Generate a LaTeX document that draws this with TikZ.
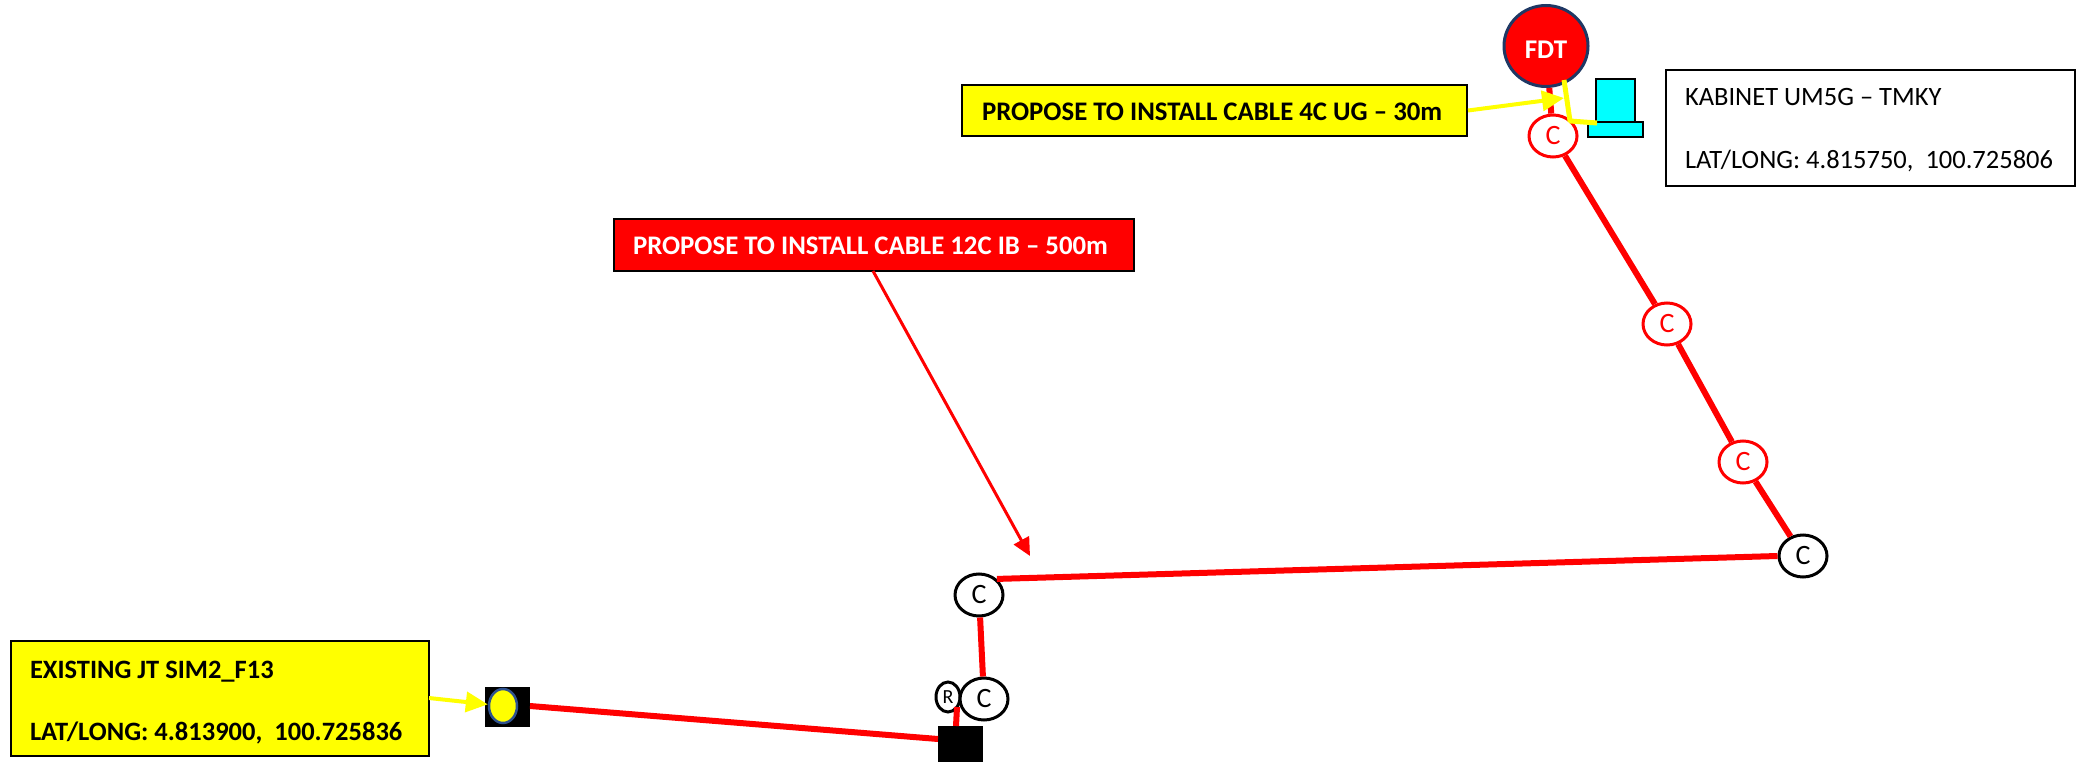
\documentclass[tikz,border=0pt]{standalone}
\usepackage{fontspec}
\setmainfont{Carlito}
\usetikzlibrary{arrows.meta,shapes.geometric}
\definecolor{pureyellow}{RGB}{255,255,0}
\definecolor{purecyan}{RGB}{0,255,255}
\definecolor{purered}{RGB}{255,0,0}
\definecolor{jtblue}{RGB}{47,82,143}
\definecolor{fdtblue}{RGB}{31,56,100}
\newcommand{\lowered}[2]{\raisebox{-#1}[\height][\depth]{\spaceskip=0pt\relax #2}}
\newcommand{\boxfont}[1]{\fontsize{26.5}{#1}\selectfont}
\tikzset{
  cnode/.style={ellipse,draw=black,line width=3pt,fill=white,inner sep=0pt,minimum width=48pt,minimum height=42pt,font=\fontsize{28}{28}\selectfont},
  rcnode/.style={cnode,draw=purered,text=purered},
  infobox/.style={rectangle,draw=black,line width=2pt,inner sep=0pt,align=left,font=\boxfont{63}},
  cable/.style={draw=purered,line width=6pt},
  ylead/.style={draw=pureyellow,line width=4pt,-{Triangle[length=22pt,width=20pt]}},
  rlead/.style={draw=purered,line width=3pt,-{Triangle[length=18pt,width=17pt]}},
  solidblock/.style={rectangle,fill=black,inner sep=0pt},
}
\begin{document}
\begin{tikzpicture}[x=1pt,y=-1pt]
\useasboundingbox (0,0) rectangle (2077,762);
% boxes
\node[infobox,fill=pureyellow,font=\bfseries\fontsize{26.8}{27}\selectfont,minimum width=505pt,minimum height=51pt,text width=465pt] (ugbox) at (1214.5,110.5) {\lowered{1pt}{PROPOSE TO INSTALL CABLE 4C UG – 30m}};
\node[infobox,fill=purered,text=white,font=\bfseries\fontsize{26.8}{27}\selectfont,minimum width=520pt,minimum height=52pt,text width=482pt] (ibbox) at (874,245) {\lowered{1pt}{PROPOSE TO INSTALL CABLE 12C IB – 500m}};
\node[infobox,minimum width=409pt,minimum height=116pt,text width=371pt] (kab) at (1870.5,128.5) {\lowered{2pt}{KABINET UM5G – TMKY}\\\lowered{2pt}{LAT/LONG: 4.815750,\ \ 100.725806}};
\node[infobox,fill=pureyellow,font=\bfseries\boxfont{63},minimum width=418pt,minimum height=115pt,text width=380pt] (jtbox) at (220,698.5) {\lowered{5pt}{EXISTING JT SIM2\_F13}\\\lowered{4pt}{LAT/LONG: 4.813900,\ \ 100.725836}};
% equipment
\node[solidblock,minimum width=45pt,minimum height=40pt] (jtsq) at (507.5,706.5) {};
\node[ellipse,fill=pureyellow,draw=jtblue,line width=2.5pt,inner sep=0pt,minimum width=28pt,minimum height=34pt] (jt) at (503,706) {};
\node[solidblock,minimum width=45pt,minimum height=38pt] (pole) at (960.5,745) {};
\node[cnode,minimum width=24pt,minimum height=30pt,font=\fontsize{20}{20}\selectfont] (r) at (948,697) {R};
\node[cnode] (c1) at (984,699) {C};
\node[cnode] (c2) at (979,595) {C};
\node[cnode] (c3) at (1803,556) {C};
\node[rcnode] (c4) at (1743,462) {C};
\node[rcnode] (c5) at (1667,324) {C};
\node[rcnode] (c6) at (1553,136) {C};
\node[ellipse,fill=purered,draw=fdtblue,line width=3pt,inner sep=0pt,minimum width=84pt,minimum height=81pt,text=white,font=\bfseries\fontsize{27}{27}\selectfont] (fdt) at (1546,46) {\lowered{4pt}{FDT}};
\node[rectangle,fill=purecyan,draw=black,line width=2pt,minimum width=39pt,minimum height=43pt,inner sep=0pt] (cabtop) at (1615.5,100.5) {};
\node[rectangle,fill=purecyan,draw=black,line width=2pt,minimum width=55pt,minimum height=15pt,inner sep=0pt] (cabbase) at (1615.5,129.5) {};
% connector ends
\coordinate (ugtip) at (1564,98);
\coordinate (ibtip) at (1030,556);
\coordinate (ibstart) at (873,271);
\coordinate (lt) at (1564,80);
\coordinate (lm) at (1570,121);
\coordinate (le) at (1597,123);
\coordinate (poletop) at (956,726);
\coordinate (polew) at (938,739);
\coordinate (jte) at (530,706);
\coordinate (rb) at (957,707);
\coordinate (jtin) at (429,698);
% cables
\draw[cable] (jte) -- (polew);
\draw[cable] (rb) -- (poletop);
\draw[cable] (c1) -- (c2);
\draw[cable] (c2.42) -- (c3.west);
\draw[cable] (c3) -- (c4);
\draw[cable] (c4) -- (c5);
\draw[cable] (c5) -- (c6);
\draw[cable] (fdt) -- (c6);
% leaders
\draw[rlead] (ibstart) -- (ibtip);
\draw[ylead] (ugbox.east) -- (ugtip);
\draw[ylead] (jtin) -- (jt);
\draw[draw=pureyellow,line width=5pt,line join=round] (lt) -- (lm) -- (le);
\end{tikzpicture}
\end{document}
